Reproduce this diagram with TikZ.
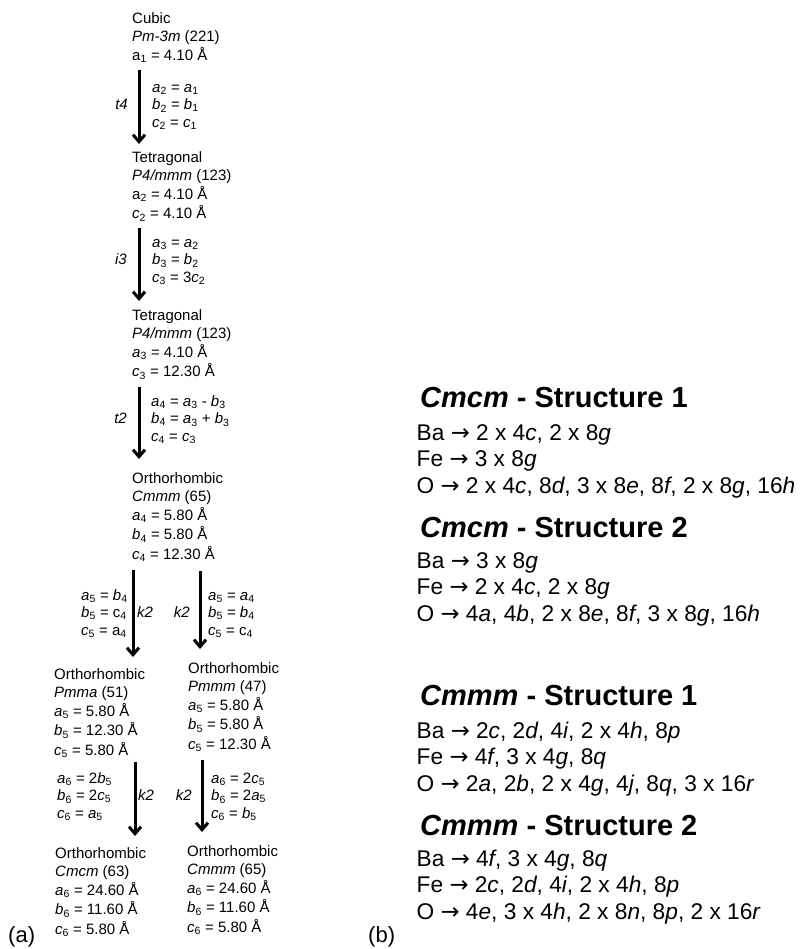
\documentclass[tikz,border=0pt]{standalone}
\usepackage{fontspec}
\setmainfont{Liberation Sans}
\newfontfamily\arrfont{DejaVu Sans}
\usetikzlibrary{arrows.meta}
\newcommand\iv[2]{\textit{#1}\textsubscript{#2}}
\newcommand\uv[2]{#1\textsubscript{#2}}
\newcommand\toarr{{\arrfont →}}
\tikzset{
  blk/.style={anchor=north west, inner sep=0pt, align=left, font=\fontsize{15}{17.5}\selectfont},
  labe/.style={anchor=base east, inner sep=0pt, font=\fontsize{15}{17.5}\selectfont\itshape},
  labw/.style={anchor=base west, inner sep=0pt, font=\fontsize{15}{17.5}\selectfont\itshape},
  arr/.style={line width=3pt, -{Straight Barb[length=7pt,width=12pt]}},
  head/.style={anchor=base west, inner sep=0pt, font=\fontsize{29}{34}\selectfont\bfseries},
  body/.style={anchor=north west, inner sep=0pt, align=left, font=\fontsize{22.7}{26.5}\selectfont},
  tag/.style={anchor=base west, inner sep=0pt, font=\fontsize{22}{26}\selectfont},
}
\begin{document}
\begin{tikzpicture}[x=1pt,y=-1pt]
\useasboundingbox (0,0) rectangle (806,949);

% ---- left column: blocks
\node[blk] (b1) at (132,11.2) {\strut Cubic\\ \strut\textit{Pm-3m} (221)\\ \strut\uv{a}{1} = 4.10 Å};
\node[blk] (b2) at (132,150.2) {\strut Tetragonal\\ \strut\textit{P4/mmm} (123)\\ \strut\uv{a}{2} = 4.10 Å\\ \strut\iv{c}{2} = 4.10 Å};
\node[blk] (b3) at (132,308.2) {\strut Tetragonal\\ \strut\textit{P4/mmm} (123)\\ \strut\iv{a}{3} = 4.10 Å\\ \strut\iv{c}{3} = 12.30 Å};
\node[blk] (b4) at (132,471.2) {\strut Orthorhombic\\ \strut\textit{Cmmm} (65)\\ \strut\iv{a}{4} = 5.80 Å\\ \strut\iv{b}{4} = 5.80 Å\\ \strut\iv{c}{4} = 12.30 Å};
\node[blk] (b5l) at (54,667.2) {\strut Orthorhombic\\ \strut\textit{Pmma} (51)\\ \strut\iv{a}{5} = 5.80 Å\\ \strut\iv{b}{5} = 12.30 Å\\ \strut\iv{c}{5} = 5.80 Å};
\node[blk] (b5r) at (188,661.2) {\strut Orthorhombic\\ \strut\textit{Pmmm} (47)\\ \strut\iv{a}{5} = 5.80 Å\\ \strut\iv{b}{5} = 5.80 Å\\ \strut\iv{c}{5} = 12.30 Å};
\node[blk] (b6l) at (55,846.2) {\strut Orthorhombic\\ \strut\textit{Cmcm} (63)\\ \strut\iv{a}{6} = 24.60 Å\\ \strut\iv{b}{6} = 11.60 Å\\ \strut\iv{c}{6} = 5.80 Å};
\node[blk] (b6r) at (187,844.2) {\strut Orthorhombic\\ \strut\textit{Cmmm} (65)\\ \strut\iv{a}{6} = 24.60 Å\\ \strut\iv{b}{6} = 11.60 Å\\ \strut\iv{c}{6} = 5.80 Å};

% ---- relations
\node[blk] (r1) at (152,79.7) {\strut\iv{a}{2} = \iv{a}{1}\\ \strut\iv{b}{2} = \iv{b}{1}\\ \strut\iv{c}{2} = \iv{c}{1}};
\node[blk] (r2) at (152,234.7) {\strut\iv{a}{3} = \iv{a}{2}\\ \strut\iv{b}{3} = \iv{b}{2}\\ \strut\iv{c}{3} = 3\iv{c}{2}};
\node[blk] (r3) at (151,393.7) {\strut\iv{a}{4} = \iv{a}{3} - \iv{b}{3}\\ \strut\iv{b}{4} = \iv{a}{3} + \iv{b}{3}\\ \strut\iv{c}{4} = \iv{c}{3}};
\node[blk] (rl) at (81,587.7) {\strut\iv{a}{5} = \iv{b}{4}\\ \strut\iv{b}{5} = \uv{c}{4}\\ \strut\iv{c}{5} = \uv{a}{4}};
\node[blk] (rr) at (208,587.7) {\strut\iv{a}{5} = \iv{a}{4}\\ \strut\iv{b}{5} = \iv{b}{4}\\ \strut\iv{c}{5} = \uv{c}{4}};
\node[blk] (r5l) at (57,770.7) {\strut\iv{a}{6} = 2\iv{b}{5}\\ \strut\iv{b}{6} = 2\iv{c}{5}\\ \strut\iv{c}{6} = \iv{a}{5}};
\node[blk] (r5r) at (211,770.7) {\strut\iv{a}{6} = 2\iv{c}{5}\\ \strut\iv{b}{6} = 2\iv{a}{5}\\ \strut\iv{c}{6} = \iv{b}{5}};

% ---- subgroup labels
\node[labe] (t4) at (128,109.4) {t4};
\node[labe] (i3) at (127,264.4) {i3};
\node[labe] (t2) at (127,423.4) {t2};
\node[labw] (k2a) at (137,617.4) {k2};
\node[labe] (k2b) at (190,617.4) {k2};
\node[labw] (k2c) at (138,800.4) {k2};
\node[labe] (k2d) at (192,800.4) {k2};

% ---- arrow end points
\coordinate (s1) at (139,70);  \coordinate (e1) at (139,144);
\coordinate (s2) at (139,228); \coordinate (e2) at (139,301);
\coordinate (s3) at (139,387); \coordinate (e3) at (139,459);
\coordinate (s4) at (133,570); \coordinate (e4) at (133,657);
\coordinate (s5) at (200,571); \coordinate (e5) at (200,649);
\coordinate (s6) at (135,762); \coordinate (e6) at (135,836);
\coordinate (s7) at (202,760); \coordinate (e7) at (202,832);
\draw[arr] (s1) -- (e1);
\draw[arr] (s2) -- (e2);
\draw[arr] (s3) -- (e3);
\draw[arr] (s4) -- (e4);
\draw[arr] (s5) -- (e5);
\draw[arr] (s6) -- (e6);
\draw[arr] (s7) -- (e7);

% ---- panel tags
\node[tag] (pa) at (8,942) {(a)};
\node[tag] (pb) at (368,942) {(b)};

% ---- right column
\node[head] (h1) at (420,407.4) {\textit{Cmcm} - Structure 1};
\node[body] (w1) at (416.5,421.6) {\strut Ba \toarr{} 2 x 4\textit{c}, 2 x 8\textit{g}\\ \strut Fe \toarr{} 3 x 8\textit{g}\\ \strut O \toarr{} 2 x 4\textit{c}, 8\textit{d}, 3 x 8\textit{e}, 8\textit{f}, 2 x 8\textit{g}, 16\textit{h}};
\node[head] (h2) at (420,537.4) {\textit{Cmcm} - Structure 2};
\node[body] (w2) at (416.5,549.6) {\strut Ba \toarr{} 3 x 8\textit{g}\\ \strut Fe \toarr{} 2 x 4\textit{c}, 2 x 8\textit{g}\\ \strut O \toarr{} 4\textit{a}, 4\textit{b}, 2 x 8\textit{e}, 8\textit{f}, 3 x 8\textit{g}, 16\textit{h}};
\node[head] (h3) at (420,705.4) {\textit{Cmmm} - Structure 1};
\node[body] (w3) at (416.5,719.6) {\strut Ba \toarr{} 2\textit{c}, 2\textit{d}, 4\textit{i}, 2 x 4\textit{h}, 8\textit{p}\\ \strut Fe \toarr{} 4\textit{f}, 3 x 4\textit{g}, 8\textit{q}\\ \strut O \toarr{} 2\textit{a}, 2\textit{b}, 2 x 4\textit{g}, 4\textit{j}, 8\textit{q}, 3 x 16\textit{r}};
\node[head] (h4) at (420,835.4) {\textit{Cmmm} - Structure 2};
\node[body] (w4) at (416.5,847.6) {\strut Ba \toarr{} 4\textit{f}, 3 x 4\textit{g}, 8\textit{q}\\ \strut Fe \toarr{} 2\textit{c}, 2\textit{d}, 4\textit{i}, 2 x 4\textit{h}, 8\textit{p}\\ \strut O \toarr{} 4\textit{e}, 3 x 4\textit{h}, 2 x 8\textit{n}, 8\textit{p}, 2 x 16\textit{r}};
\end{tikzpicture}
\end{document}
